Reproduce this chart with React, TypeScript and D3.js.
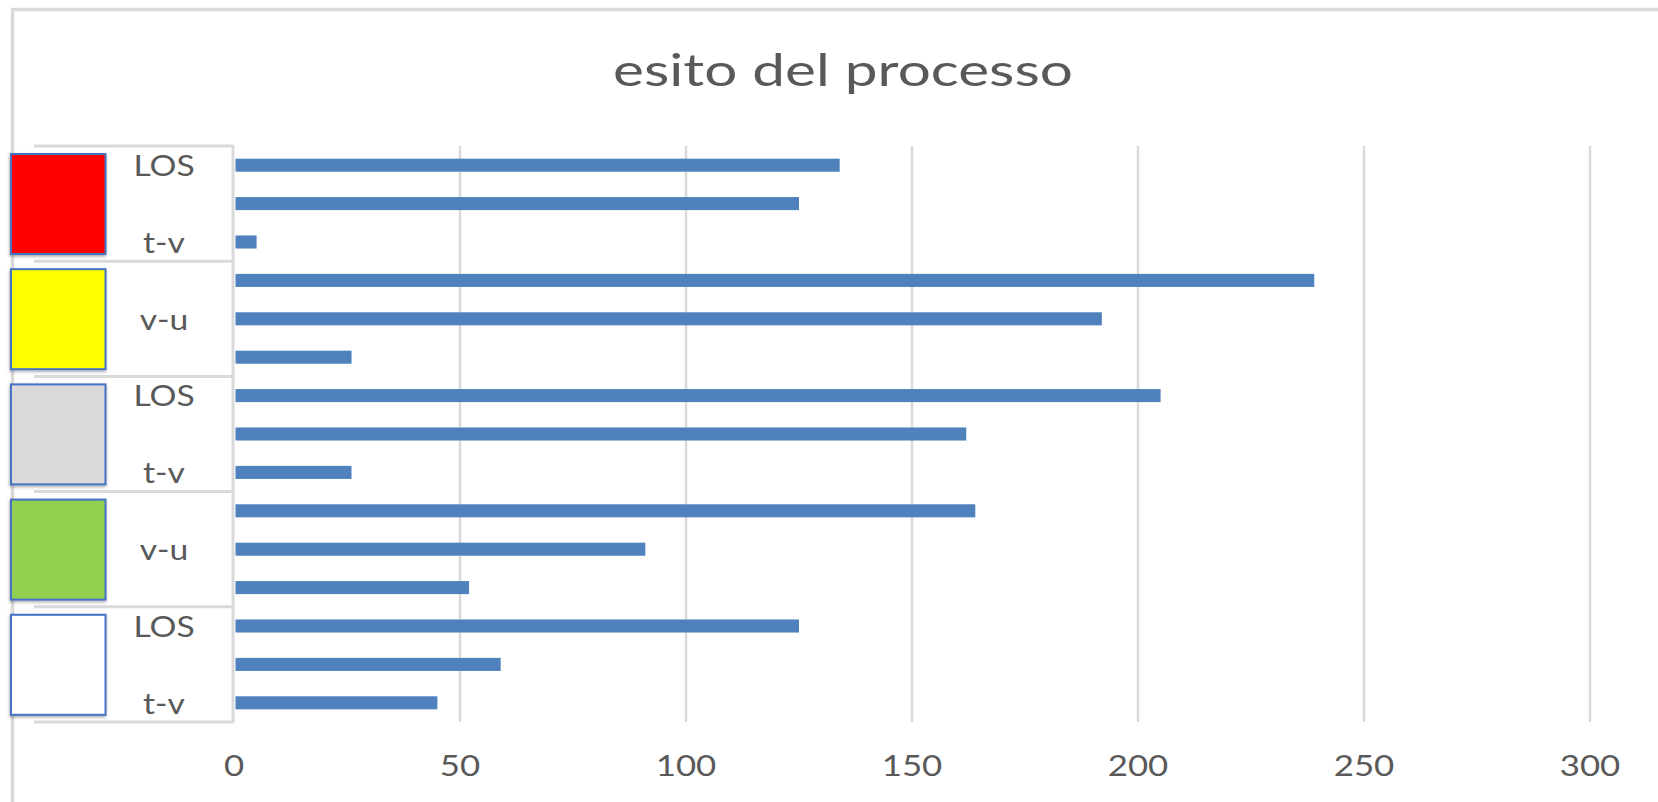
import React from "react";
import * as d3 from "d3";

// Outcome groups (each drawn as a coloured swatch on the outer axis level)
const groupColors = ["#FF0000", "#FFFF00", "#D9D9D9", "#92D050", "#FFFFFF"];
// Inner categories repeated inside every group
const subCategories = ["LOS", "v-u", "t-v"];
// One value per bar, top to bottom
const values = [134, 125, 5, 239, 192, 26, 205, 162, 26, 164, 91, 52, 125, 59, 45];
// Value axis ticks
const xTicks = [0, 50, 100, 150, 200, 250, 300];

const W = 1658;
const H = 802;
const plot = { left: 234, right: 1590, top: 146, bottom: 722 };
const labelColor = "#595959";
const gridColor = "#D9D9D9";
const barColor = "#4F81BD";
const font = "Lato, 'Open Sans', sans-serif";
const titleStretch = 1.33;
const labelStretch = 1.2;

export default function App() {
  const x = d3.scaleLinear().domain([0, 300]).range([plot.left, plot.right]);
  const rows = d3.range(values.length);
  const y = d3
    .scaleBand<number>()
    .domain(rows)
    .range([plot.top, plot.bottom])
    .paddingInner(0.66)
    .paddingOuter(0.33);
  const groupSize = subCategories.length;
  const groupH = (plot.bottom - plot.top) / groupColors.length;
  const boundaries = d3.range(groupColors.length + 1).map((g) => plot.top + g * groupH);
  const bw = y.bandwidth();

  return (
    <svg
      width={W}
      height={H}
      style={{ position: "absolute", left: 0, top: 0, background: "#fff" }}
    >
      <defs>
        <filter id="swatchShadow" x="-20%" y="-20%" width="140%" height="140%">
          <feDropShadow dx="-0.5" dy="1.5" stdDeviation="1.4" floodColor="#000" floodOpacity="0.35" />
        </filter>
      </defs>

      {/* chart frame */}
      <path
        d={`M12.5,${H} L12.5,9.5 L${W},9.5`}
        fill="none"
        stroke={gridColor}
        strokeWidth={3.5}
      />

      {/* title */}
      <text
        transform={`translate(843,86) scale(${titleStretch},1)`}
        textAnchor="middle"
        fontFamily={font}
        fontSize={44}
        fill={labelColor}
      >
        esito del processo
      </text>

      {/* vertical gridlines */}
      {xTicks
        .filter((t) => t > 0)
        .map((t) => (
          <line
            key={`g${t}`}
            x1={x(t)}
            x2={x(t)}
            y1={plot.top}
            y2={plot.bottom}
            stroke={gridColor}
            strokeWidth={2.5}
          />
        ))}

      {/* bars */}
      {rows.map((i) => (
        <rect
          key={`b${i}`}
          x={x(0) + 1.5}
          y={y(i)!}
          width={Math.max(0, x(values[i]) - x(0) - 1.5)}
          height={bw}
          fill={barColor}
        />
      ))}

      {/* category axis: line and group separators */}
      <line
        x1={plot.left - 1}
        x2={plot.left - 1}
        y1={plot.top - 1}
        y2={plot.bottom + 1}
        stroke={gridColor}
        strokeWidth={3}
      />
      {boundaries.map((b, k) => (
        <line
          key={`s${k}`}
          x1={34}
          x2={plot.left - 1}
          y1={b}
          y2={b}
          stroke={gridColor}
          strokeWidth={3}
        />
      ))}

      {/* outer level: coloured swatches */}
      {groupColors.map((c, g) => (
        <rect
          key={`sw${g}`}
          x={11}
          y={boundaries[g] + 8}
          width={94.5}
          height={100}
          fill={c}
          stroke="#4472C4"
          strokeWidth={2}
          filter="url(#swatchShadow)"
        />
      ))}

      {/* inner level labels (every other category) */}
      {rows
        .filter((i) => i % 2 === 0)
        .map((i) => (
          <text
            key={`l${i}`}
            transform={`translate(164,${y(i)! + bw / 2}) scale(${labelStretch},1)`}
            textAnchor="middle"
            dominantBaseline="central"
            fontFamily={font}
            fontSize={28}
            fill={labelColor}
          >
            {subCategories[i % groupSize]}
          </text>
        ))}

      {/* value axis labels */}
      {xTicks.map((t) => (
        <text
          key={`t${t}`}
          transform={`translate(${x(t)},764.5) scale(${labelStretch},1)`}
          textAnchor="middle"
          dominantBaseline="central"
          fontFamily={font}
          fontSize={29}
          fill={labelColor}
        >
          {t}
        </text>
      ))}
    </svg>
  );
}
